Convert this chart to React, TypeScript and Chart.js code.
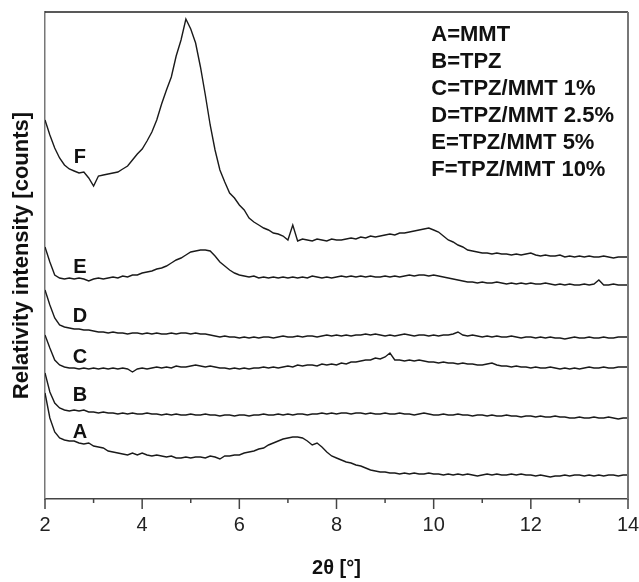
import React, { useEffect, useRef } from "react";
import { Chart, registerables } from "chart.js";

Chart.register(...registerables);

// 2θ sampling grid (degrees)
const THETA: number[] = Array.from({ length: 121 }, (_, i) => Math.round((2 + i * 0.1) * 10) / 10);

const MAJOR_TICKS = [2, 4, 6, 8, 10, 12, 14];
const MINOR_TICKS = [3, 5, 7, 9, 11, 13];

const SERIES_NAMES = ["A", "B", "C", "D", "E", "F"];
const LEGEND_LINES = [
  "A=MMT",
  "B=TPZ",
  "C=TPZ/MMT 1%",
  "D=TPZ/MMT 2.5%",
  "E=TPZ/MMT 5%",
  "F=TPZ/MMT 10%",
];

// intensity values (arbitrary offset counts), one per THETA
const SERIES_A = [
  106, 81, 67, 61, 59, 58, 58, 56, 55, 56,
  53, 52, 51, 48, 47, 46, 45, 44, 46, 44,
  46, 44, 43, 44, 43, 42, 43, 41, 41, 42,
  41, 42, 42, 41, 43, 42, 40, 43, 43, 44,
  44, 46, 47, 48, 50, 51, 54, 56, 58, 60,
  61, 62, 62, 61, 58, 54, 56, 52, 47, 43,
  41, 39, 37, 36, 34, 33, 31, 29, 28, 27,
  27, 26, 26, 25, 26, 25, 26, 25, 25, 26,
  25, 25, 24, 25, 24, 25, 24, 25, 24, 23,
  24, 25, 24, 25, 24, 24, 25, 24, 25, 24,
  24, 23, 24, 23, 22, 23, 23, 24, 23, 24,
  24, 23, 24, 23, 24, 23, 24, 24, 23, 24,
  24,
];

const SERIES_B = [
  126, 107, 96, 91, 89, 88, 89, 88, 89, 87,
  87, 86, 87, 86, 86, 85, 86, 85, 86, 85,
  85, 86, 85, 85, 84, 85, 84, 85, 84, 84,
  85, 84, 84, 85, 84, 84, 83, 84, 84, 83,
  84, 84, 83, 84, 84, 85, 84, 84, 85, 84,
  85, 84, 85, 85, 84, 85, 85, 86, 85, 86,
  85, 86, 86, 85, 86, 86, 85, 86, 85, 85,
  86, 85, 85, 86, 85, 85, 84, 85, 86, 85,
  84, 84, 85, 84, 84, 85, 84, 84, 83, 84,
  84, 83, 84, 83, 83, 84, 83, 83, 82, 83,
  83, 82, 83, 82, 82, 83, 82, 82, 81, 81,
  82, 81, 81, 82, 81, 81, 82, 81, 80, 81,
  81,
];

const SERIES_C = [
  164, 151, 139, 134, 132, 131, 131, 130, 131, 130,
  131, 130, 131, 130, 131, 130, 131, 130, 127, 130,
  131, 130, 131, 132, 131, 132, 131, 133, 132, 132,
  133, 134, 133, 132, 133, 132, 131, 131, 130, 131,
  130, 131, 130, 131, 131, 132, 131, 132, 131, 132,
  133, 132, 134, 133, 134, 134, 133, 135, 134, 135,
  134, 136, 135, 137, 137, 138, 139, 139, 141, 140,
  142, 146, 139, 139, 138, 139, 138, 139, 138, 137,
  137, 136, 137, 136, 136, 135, 136, 135, 135, 134,
  134, 135, 136, 134, 133, 133, 132, 133, 132, 132,
  131, 132, 131, 131, 132, 131, 130, 131, 130, 131,
  130, 131, 132, 131, 131, 132, 131, 131, 132, 132,
  132,
];

const SERIES_D = [
  209, 194, 181, 174, 172, 171, 170, 170, 169, 169,
  168, 167, 167, 166, 167, 166, 166, 165, 166, 166,
  165, 166, 165, 166, 165, 165, 166, 165, 166, 166,
  165, 166, 165, 165, 164, 163, 162, 163, 162, 162,
  161, 162, 161, 162, 161, 162, 162, 161, 162, 163,
  162, 162, 163, 162, 163, 163, 162, 163, 164, 163,
  164, 163, 164, 163, 164, 164, 165, 164, 165, 164,
  163, 164, 163, 164, 165, 164, 163, 164, 164, 163,
  164, 163, 164, 164, 165, 167, 164, 163, 164, 163,
  162, 163, 162, 163, 162, 162, 163, 162, 161, 162,
  162, 161, 162, 161, 162, 161, 161, 160, 161, 162,
  161, 161, 162, 161, 161, 162, 161, 161, 162, 162,
  162,
];

const SERIES_E = [
  252, 237, 224, 221, 220, 221, 220, 221, 220, 218,
  220, 221, 220, 221, 222, 221, 223, 222, 224, 224,
  226, 227, 228, 230, 231, 233, 236, 239, 241, 244,
  247, 248, 249, 249, 248, 243, 237, 233, 229, 226,
  224, 223, 222, 223, 221, 222, 221, 222, 221, 222,
  221, 222, 221, 222, 221, 223, 222, 221, 222, 221,
  222, 223, 222, 223, 222, 223, 222, 223, 222, 222,
  223, 222, 223, 222, 223, 224, 223, 224, 224, 223,
  224, 223, 222, 221, 220, 219, 218, 217, 217, 216,
  217, 216, 216, 217, 216, 215, 216, 215, 216, 215,
  216, 215, 215, 216, 215, 214, 215, 214, 215, 214,
  214, 215, 214, 215, 219, 214, 214, 215, 214, 214,
  214,
];

const SERIES_F = [
  379, 364, 351, 341, 334, 330, 328, 326, 327, 321,
  313, 323, 324, 325, 326, 327, 330, 333, 339, 345,
  350, 358, 367, 379, 395, 409, 422, 443, 459, 480,
  470, 456, 432, 404, 374, 349, 329, 317, 306, 301,
  294, 289, 281, 277, 274, 271, 269, 266, 265, 263,
  259, 274, 258, 260, 259, 258, 260, 259, 258, 260,
  259, 259, 260, 261, 260, 262, 261, 263, 262, 263,
  264, 265, 264, 266, 266, 267, 268, 269, 270, 271,
  269, 267, 263, 259, 257, 254, 252, 249, 248, 247,
  246, 246, 245, 246, 245, 245, 244, 245, 244, 245,
  246, 244, 243, 244, 243, 243, 244, 242, 243, 242,
  243, 242, 243, 242, 242, 243, 242, 241, 242, 242,
  242,
];

const SERIES = [SERIES_A, SERIES_B, SERIES_C, SERIES_D, SERIES_E, SERIES_F];

// annotation anchors in data coordinates
const CURVE_LABEL_X = 2.72;
const CURVE_LABEL_Y = [67, 104, 142, 183, 232, 342];
const LEGEND_X = 9.95;
const LEGEND_Y = [464, 437, 410, 383, 356, 329];

const FONT = "'Liberation Sans', Arial, Helvetica, sans-serif";

const overlayPlugin = {
  id: "overlay",
  afterDraw(chart: any) {
    const { ctx, chartArea: ca, scales } = chart;
    const xs = scales.x;
    const ys = scales.y;
    ctx.save();
    // frame: top and right
    ctx.strokeStyle = "#222";
    ctx.lineWidth = 1.5;
    ctx.beginPath();
    ctx.moveTo(ca.left, ca.top);
    ctx.lineTo(ca.right, ca.top);
    ctx.stroke();
    ctx.strokeStyle = "#777";
    ctx.lineWidth = 2;
    ctx.beginPath();
    ctx.moveTo(ca.right, ca.top);
    ctx.lineTo(ca.right, ca.bottom);
    ctx.stroke();
    // tick marks (major + minor)
    ctx.strokeStyle = "#444";
    ctx.lineWidth = 1.5;
    xs.ticks.forEach((t: any) => {
      const px = xs.getPixelForValue(t.value);
      const len = MAJOR_TICKS.includes(t.value) ? 10 : 4;
      ctx.beginPath();
      ctx.moveTo(px, ca.bottom);
      ctx.lineTo(px, ca.bottom + len);
      ctx.stroke();
    });
    // curve letters
    ctx.fillStyle = "#111";
    ctx.font = `bold 20px ${FONT}`;
    ctx.textAlign = "center";
    ctx.textBaseline = "middle";
    SERIES_NAMES.forEach((n, i) => {
      ctx.fillText(n, xs.getPixelForValue(CURVE_LABEL_X), ys.getPixelForValue(CURVE_LABEL_Y[i]));
    });
    // legend text
    ctx.font = `bold 22px ${FONT}`;
    ctx.textAlign = "left";
    LEGEND_LINES.forEach((s, i) => {
      ctx.fillText(s, xs.getPixelForValue(LEGEND_X), ys.getPixelForValue(LEGEND_Y[i]));
    });
    ctx.restore();
  },
};

export default function App() {
  const ref = useRef<HTMLCanvasElement | null>(null);

  useEffect(() => {
    if (!ref.current) return;
    const allTicks = [...MAJOR_TICKS, ...MINOR_TICKS].sort((a, b) => a - b);
    const chart = new Chart(ref.current, {
      type: "line",
      data: {
        datasets: SERIES.map((s, k) => ({
          label: SERIES_NAMES[k],
          data: THETA.map((t, i) => ({ x: t, y: s[i] })),
          borderColor: "#1a1a1a",
          borderWidth: 1.4,
          pointRadius: 0,
          fill: false,
          tension: 0,
        })),
      },
      options: {
        animation: false,
        responsive: false,
        maintainAspectRatio: false,
        layout: { padding: { top: 12, right: 11, left: 0, bottom: 0 } },
        plugins: { legend: { display: false }, tooltip: { enabled: false } },
        scales: {
          x: {
            type: "linear",
            min: 2,
            max: 14,
            afterBuildTicks: (s: any) => {
              s.ticks = allTicks.map((v) => ({ value: v }));
            },
            afterFit: (s: any) => {
              s.height = 83;
              s.paddingLeft = 0;
              s.paddingRight = 0;
            },
            ticks: {
              autoSkip: false,
              maxRotation: 0,
              padding: 14,
              color: "#222",
              font: { size: 20, family: FONT },
              callback: (v: any) => (MAJOR_TICKS.includes(Number(v)) ? String(v) : ""),
            },
            grid: { display: false, drawTicks: false },
            border: { display: true, color: "#444", width: 1.5 },
            title: {
              display: true,
              text: "2θ [°]",
              color: "#111",
              font: { size: 20, weight: "bold", family: FONT },
              padding: { top: 0, bottom: 2 },
            },
          },
          y: {
            min: 0,
            max: 487,
            afterFit: (s: any) => {
              s.width = 45;
              s.paddingTop = 0;
              s.paddingBottom = 0;
            },
            ticks: { display: false },
            grid: { display: false, drawTicks: false },
            border: { display: true, color: "#777", width: 1.5 },
            title: {
              display: true,
              text: "Relativity intensity [counts]",
              color: "#111",
              font: { size: 22, weight: "bold", family: FONT },
              padding: { top: 9, bottom: 0 },
            },
          },
        },
      },
      plugins: [overlayPlugin],
    } as any);
    return () => chart.destroy();
  }, []);

  return (
    <div style={{ position: "absolute", left: 0, top: 0, width: 639, height: 582, background: "#fff" }}>
      <canvas ref={ref} width={639} height={582} style={{ display: "block" }} />
    </div>
  );
}
